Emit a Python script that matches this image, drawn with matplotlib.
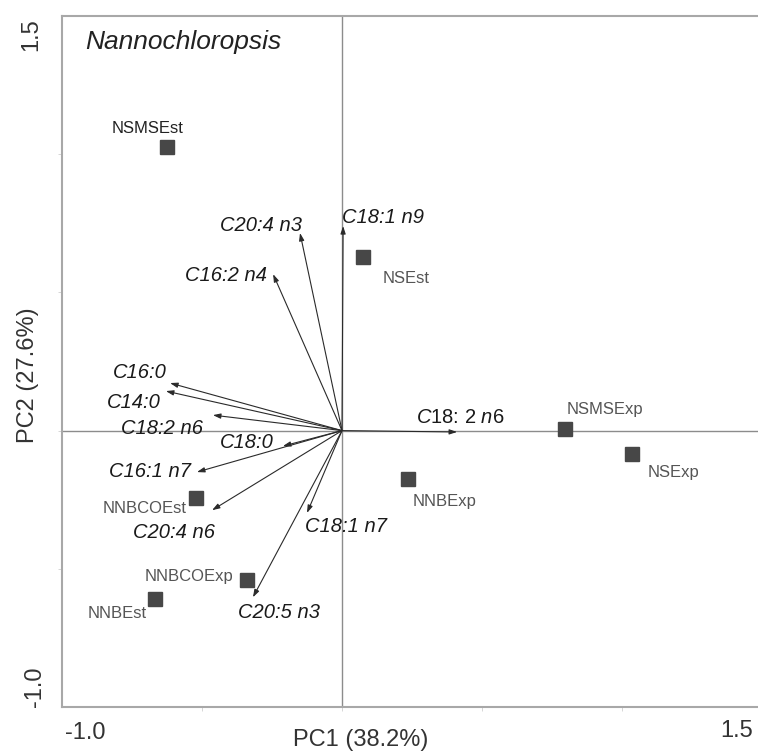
import numpy as np
import matplotlib
matplotlib.use("Agg")
import matplotlib.pyplot as plt

plt.rcParams['font.family'] = ['Liberation Sans', 'DejaVu Sans']
plt.rcParams['mathtext.fontset'] = 'custom'
plt.rcParams['mathtext.it'] = 'Liberation Sans:italic'
plt.rcParams['mathtext.rm'] = 'Liberation Sans'

# sample scores (PC1, PC2)
samples = ['NSMSEst', 'NSEst', 'NSMSExp', 'NSExp', 'NNBExp',
           'NNBCOEst', 'NNBCOExp', 'NNBEst']
pc1 = [-0.625, 0.075, 0.796, 1.036, 0.236, -0.521, -0.339, -0.668]
pc2 = [1.026, 0.628, 0.005, -0.085, -0.175, -0.244, -0.541, -0.610]

# fatty acid loadings
acids = ['C16:0', 'C14:0', 'C18:2 n6', 'C18:0', 'C16:1 n7', 'C20:4 n6',
         'C18:1 n7', 'C20:5 n3', 'C20:4 n3', 'C16:2 n4', 'C18:1 n9',
         r'$\mathit{C}$18: 2 $\mathit{n}$6']
load1 = [-0.614, -0.629, -0.461, -0.211, -0.518, -0.464,
         -0.125, -0.318, -0.150, -0.246, 0.004, 0.411]
load2 = [0.172, 0.143, 0.056, -0.056, -0.150, -0.288,
         -0.298, -0.603, 0.715, 0.566, 0.740, -0.005]

# label offsets in pixels from the point / arrow tip
sample_off = [(-19, 19), (43, -21), (40, 20), (41, -18), (36, -23),
              (-51, -10), (-58, 4), (-38, -14)]
sample_col = ['#222222'] + ['#555555'] * 7
acid_off = [(-30, 11), (-32, -11), (-51, -13), (-36, 4), (-47, 1), (-38, -22),
            (39, -14), (26, -15), (-39, 7), (-47, -1), (40, 9), (3, 14)]
acid_style = ['italic'] * 11 + ['normal']

fig = plt.figure(figsize=(7.58, 7.54), dpi=100)
ax = fig.add_axes([62 / 758, 47 / 754, 700 / 758, 691 / 754])
ax.set_xlim(-1.0, 1.5)
ax.set_ylim(-1.0, 1.5)

for s in ['left', 'top', 'bottom']:
    ax.spines[s].set_color('#a8a8a8')
    ax.spines[s].set_linewidth(1.5)
ax.spines['right'].set_visible(False)

ax.axhline(0, color='#8c8c8c', lw=1.0, zorder=1)
ax.axvline(0, color='#8c8c8c', lw=1.0, zorder=1)

# arrows
for name, lx, ly, (dx, dy), st in zip(acids, load1, load2, acid_off, acid_style):
    ax.annotate('', xy=(lx, ly), xytext=(0, 0),
                arrowprops=dict(arrowstyle='-|>,head_length=0.45,head_width=0.15',
                                color='#2a2a2a', lw=0.8, shrinkA=0, shrinkB=0),
                zorder=2)
    ax.annotate(name, xy=(lx, ly), xytext=(dx, dy), textcoords='offset pixels',
                ha='center', va='center', fontsize=14.5, style=st,
                color='#1a1a1a', zorder=4)

# samples
ax.plot(pc1, pc2, 's', color='#474747', ms=9.5, mec='#474747', zorder=3)
for name, x, y, (dx, dy), c in zip(samples, pc1, pc2, sample_off, sample_col):
    ax.annotate(name, xy=(x, y), xytext=(dx, dy), textcoords='offset pixels',
                ha='center', va='center', fontsize=12, color=c, zorder=4)

ax.text(0.033, 0.962, 'Nannochloropsis', transform=ax.transAxes,
        fontsize=19, style='italic', color='#222222', ha='left', va='center')

# ticks: only the end values are labelled
ax.set_xticks([-1.0, 1.5])
ax.set_yticks([-1.0, 1.5])
ax.set_xticklabels([])
ax.set_yticklabels([])
ax.tick_params(length=0)
ax.set_xticks(np.arange(-0.5, 1.5, 0.5), minor=True)
ax.set_yticks(np.arange(-0.5, 1.5, 0.5), minor=True)
ax.tick_params(which='minor', length=3, color='#d0d0d0', direction='out')

tcol = '#333333'
ax.text(0.004, -0.038, '-1.0', transform=ax.transAxes, fontsize=17,
        ha='left', va='center', color=tcol)
ax.text(0.987, -0.035, '1.5', transform=ax.transAxes, fontsize=17,
        ha='right', va='center', color=tcol)
ax.text(-0.044, 0.997, '1.5', transform=ax.transAxes, fontsize=17,
        rotation=90, ha='center', va='top', color=tcol)
ax.text(-0.038, 0.0, '-1.0', transform=ax.transAxes, fontsize=17,
        rotation=90, ha='center', va='bottom', color=tcol)

ax.text(0.427, -0.048, 'PC1 (38.2%)', transform=ax.transAxes, fontsize=17,
        ha='center', va='center', color=tcol)
ax.text(-0.049, 0.48, 'PC2 (27.6%)', transform=ax.transAxes, fontsize=17,
        rotation=90, ha='center', va='center', color=tcol)

fig.savefig('out.png', dpi=100)
